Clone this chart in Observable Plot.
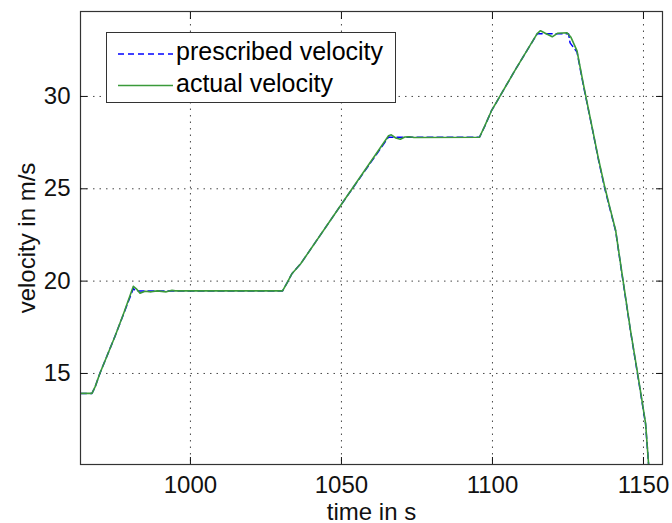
<!DOCTYPE html>
<html><head><meta charset="utf-8">
<script src="https://cdn.jsdelivr.net/npm/d3@7"></script>
<script src="https://cdn.jsdelivr.net/npm/@observablehq/plot@0.6"></script>
<style>
body{margin:0;background:#fff;}
#wrap{position:relative;width:672px;height:523px;font-family:"Liberation Sans",Arial,sans-serif;}
#legend{position:absolute;left:106px;top:32px;width:290px;height:71px;border:1px solid #333;background:#fff;box-sizing:border-box;}
#legend svg{position:absolute;left:0;top:0;}
#legend .t{position:absolute;left:69px;font-size:25px;color:#000;line-height:1;white-space:nowrap;}
</style></head><body><div id="wrap"></div>
<script>
// actual velocity (green)
const actualTime = [963.6, 967.4, 968.5, 970, 972, 975, 978, 981.1, 982, 983.3, 985, 987, 989, 992, 993.9, 995, 1030.5, 1032, 1033.6, 1036.5, 1050, 1065.6, 1066.5, 1068, 1069.5, 1071, 1072.5, 1074, 1095.7, 1097.5, 1099.6, 1107.4, 1114.8, 1115.9, 1117.5, 1119.8, 1121.5, 1124.7, 1126, 1128, 1130.1, 1133, 1135, 1137.2, 1139, 1140.8, 1142.9, 1145.7, 1148.6, 1150.7, 1151.7, 1152.2];
const actualVelocity = [13.92, 13.92, 14.3, 15.0, 15.8, 17.0, 18.3, 19.72, 19.6, 19.35, 19.45, 19.42, 19.47, 19.42, 19.5, 19.47, 19.47, 19.9, 20.4, 20.94, 24.16, 27.87, 27.92, 27.75, 27.68, 27.8, 27.82, 27.78, 27.79, 28.42, 29.2, 31.4, 33.4, 33.56, 33.42, 33.23, 33.42, 33.45, 33.2, 32.47, 30.67, 28.33, 26.7, 25.08, 23.9, 22.74, 20.4, 17.34, 14.46, 12.3, 10.07, 9.5];
// prescribed velocity (blue dashed)
const prescribedTime = [963.6, 967.4, 968.5, 970, 975, 981.1, 981.8, 1030.5, 1032, 1033.6, 1036.5, 1050, 1065.6, 1066.2, 1095.7, 1097.5, 1099.6, 1107.4, 1114.8, 1125.2, 1125.7, 1128, 1130.1, 1133, 1135, 1137.2, 1139, 1140.8, 1142.9, 1145.7, 1148.6, 1150.7, 1151.7, 1152.2];
const prescribedVelocity = [13.92, 13.92, 14.3, 15.0, 17.0, 19.6, 19.47, 19.47, 19.9, 20.4, 20.94, 24.16, 27.8, 27.79, 27.79, 28.4, 29.2, 31.4, 33.39, 33.39, 32.9, 32.4, 30.6, 28.3, 26.65, 25.0, 23.85, 22.7, 20.35, 17.3, 14.4, 12.25, 10.07, 9.5];

const xTicks = [1000, 1050, 1100, 1150];
const yTicks = [15, 20, 25, 30];
const xDomain = [963.6, 1156.3];
const yDomain = [10.07, 34.6];
const seriesNames = ["prescribed velocity", "actual velocity"];
const xLabel = "time in s";
const yLabel = "velocity in m/s";

const actual = actualTime.map((t, i) => ({t, v: actualVelocity[i]}));
const prescribed = prescribedTime.map((t, i) => ({t, v: prescribedVelocity[i]}));

const chart = Plot.plot({
  width: 672, height: 523,
  marginLeft: 80, marginRight: 10, marginTop: 11, marginBottom: 59,
  style: {fontFamily: '"Liberation Sans", Arial, sans-serif', fontSize: "24px", color: "#111", background: "#fff"},
  x: {domain: xDomain},
  y: {domain: yDomain},
  marks: [
    Plot.gridX(xTicks, {stroke: "#333", strokeOpacity: 0.9, strokeDasharray: "1.5,5"}),
    Plot.gridY(yTicks, {stroke: "#333", strokeOpacity: 0.9, strokeDasharray: "1.5,5"}),
    Plot.line(prescribed, {x: "t", y: "v", stroke: "#0000ff", strokeWidth: 1.5, strokeDasharray: "6,4", clip: true}),
    Plot.line(actual, {x: "t", y: "v", stroke: "#3a9a3a", strokeWidth: 1.6, clip: true}),
    Plot.frame({stroke: "#333", strokeWidth: 1.2}),
    Plot.axisX(xTicks, {anchor: "bottom", tickSize: -7, tickPadding: 18, tickFormat: d => String(d), label: xLabel, labelAnchor: "center", labelArrow: "none", labelOffset: 55}),
    Plot.axisX(xTicks, {anchor: "top", tickSize: -7, tickFormat: () => "", label: null}),
    Plot.axisY(yTicks, {anchor: "left", tickSize: -7, tickPadding: 17, tickFormat: d => String(d), label: yLabel, labelAnchor: "center", labelArrow: "none", labelOffset: 63}),
    Plot.axisY(yTicks, {anchor: "right", tickSize: -7, tickFormat: () => "", label: null})
  ]
});
const wrap = document.getElementById("wrap");
wrap.appendChild(chart);

const legend = document.createElement("div");
legend.id = "legend";
legend.innerHTML = `<svg width="290" height="71">
  <line x1="11" x2="66" y1="21" y2="21" stroke="#0000ff" stroke-width="1.5" stroke-dasharray="6,4"></line>
  <line x1="11" x2="66" y1="52.5" y2="52.5" stroke="#3a9a3a" stroke-width="1.6"></line>
</svg>
<div class="t" style="top:6px">${seriesNames[0]}</div>
<div class="t" style="top:38px">${seriesNames[1]}</div>`;
wrap.appendChild(legend);
</script>
</body></html>
